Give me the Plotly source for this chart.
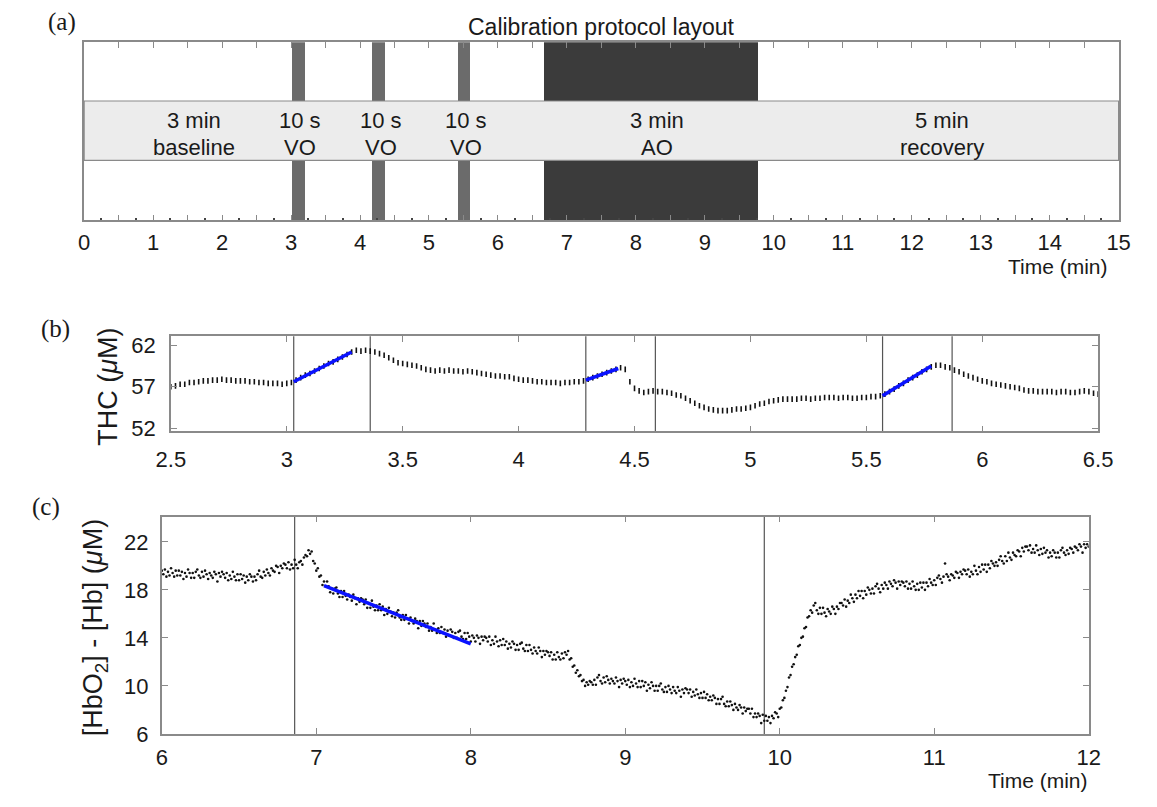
import plotly.graph_objects as go

W, H = 1157, 807

# ---------------- data ----------------
# (a) protocol layout (minutes)
seg_start = [3.02, 4.18, 5.42, 6.67]
seg_end = [3.20, 4.36, 5.59, 9.78]
seg_color = ["#6b6b6b", "#6b6b6b", "#6b6b6b", "#3b3b3b"]
band_label_x = [1.6, 3.13, 4.3, 5.54, 8.3, 12.44]
band_label_top = ["3 min", "10 s", "10 s", "10 s", "3 min", "5 min"]
band_label_bot = ["baseline", "VO", "VO", "VO", "AO", "recovery"]

# (b) THC (uM), sampled every 0.02 min from 2.5 min
thc_t0, thc_dt = 2.5, 0.02
thc = [
    57.0, 57.1, 57.3, 57.3, 57.5, 57.5, 57.6, 57.7, 57.7, 57.8,
    57.8, 57.9, 57.8, 57.8, 57.7, 57.7, 57.7, 57.6, 57.6, 57.5,
    57.5, 57.4, 57.4, 57.4, 57.3, 57.4, 57.5, 57.8, 58.1, 58.4,
    58.6, 58.9, 59.2, 59.5, 59.8, 60.0, 60.3, 60.6, 60.9, 61.2,
    61.4, 61.3, 61.4, 61.3, 61.2, 61.0, 60.8, 60.5, 60.2, 59.9,
    59.8, 59.7, 59.6, 59.5, 59.3, 59.1, 59.0, 58.9, 59.0, 58.9,
    59.0, 58.9, 58.9, 58.8, 58.9, 58.8, 58.7, 58.6, 58.5, 58.4,
    58.3, 58.3, 58.2, 58.2, 58.0, 57.9, 57.8, 57.8, 57.7, 57.6,
    57.6, 57.5, 57.5, 57.5, 57.4, 57.5, 57.5, 57.6, 57.6, 57.7,
    57.9, 58.1, 58.3, 58.5, 58.7, 58.9, 59.1, 59.3, 59.1, 57.6,
    56.8, 56.5, 56.3, 56.4, 56.5, 56.4, 56.4, 56.3, 56.2, 56.0,
    55.9, 55.6, 55.3, 55.0, 54.7, 54.5, 54.3, 54.2, 54.1, 54.1,
    54.1, 54.2, 54.3, 54.3, 54.4, 54.5, 54.7, 54.9, 55.0, 55.2,
    55.3, 55.4, 55.5, 55.5, 55.5, 55.5, 55.6, 55.6, 55.5, 55.6,
    55.6, 55.7, 55.7, 55.7, 55.6, 55.7, 55.7, 55.6, 55.6, 55.7,
    55.7, 55.8, 55.8, 55.9, 56.1, 56.4, 56.7, 57.1, 57.4, 57.8,
    58.1, 58.4, 58.8, 59.1, 59.4, 59.6, 59.6, 59.4, 59.3, 59.0,
    58.8, 58.5, 58.3, 58.1, 57.9, 57.7, 57.6, 57.4, 57.3, 57.2,
    57.1, 57.0, 56.9, 56.8, 56.6, 56.5, 56.5, 56.4, 56.4, 56.4,
    56.4, 56.3, 56.4, 56.4, 56.3, 56.3, 56.4, 56.5, 56.4, 56.2,
    56.1,
]
vo_on = [3.03, 4.29, 5.57]
vo_off = [3.36, 4.59, 5.87]
fit_b_t0 = [3.03, 4.29, 5.57]
fit_b_t1 = [3.28, 4.43, 5.78]
fit_b_v0 = [57.6, 57.8, 55.9]
fit_b_v1 = [61.2, 59.2, 59.5]

# (c) [HbO2]-[Hb] (uM), sampled every 0.01 min from 6 min
hbd_t0, hbd_dt = 6.0, 0.01
hbd = [
    19.6, 19.3, 19.7, 19.1, 19.5, 19.2, 19.8, 19.4, 19.1, 19.6,
    19.2, 19.6, 19.2, 19.5, 18.9, 19.4, 19.1, 19.7, 19.4, 19.0,
    19.4, 19.0, 19.5, 19.7, 19.2, 19.0, 19.5, 19.1, 19.6, 19.3,
    18.9, 19.4, 19.2, 19.0, 19.5, 19.3, 18.7, 19.4, 19.1, 19.5,
    19.3, 19.0, 19.4, 18.8, 19.2, 18.9, 19.5, 19.1, 18.8, 19.3,
    18.8, 19.3, 18.9, 19.2, 18.6, 19.1, 18.8, 19.3, 19.1, 18.7,
    19.1, 18.8, 19.3, 19.6, 19.1, 19.0, 19.5, 19.2, 19.7, 19.4,
    19.2, 19.8, 19.6, 19.5, 20.0, 19.9, 19.4, 20.0, 19.8, 20.2,
    20.1, 19.8, 20.3, 19.7, 20.1, 19.8, 20.5, 20.1, 19.8, 20.3,
    20.4, 20.1, 20.7, 20.9, 20.8, 21.3, 21.0, 21.2, 20.4, 20.2,
    19.6, 19.8, 19.1, 19.2, 18.4, 18.7, 18.3, 18.7, 18.3, 17.8,
    18.1, 17.7, 18.1, 18.2, 17.7, 17.4, 17.9, 17.4, 17.9, 17.5,
    17.2, 17.6, 17.4, 17.1, 17.6, 17.3, 16.8, 17.3, 17.0, 17.3,
    17.2, 16.8, 17.2, 16.5, 16.9, 16.5, 17.1, 16.6, 16.3, 16.7,
    16.3, 16.8, 16.3, 16.6, 15.9, 16.4, 16.0, 16.5, 16.2, 15.8,
    16.1, 15.7, 16.1, 16.3, 15.7, 15.5, 15.9, 15.5, 15.9, 15.6,
    15.2, 15.7, 15.4, 15.2, 15.6, 15.4, 14.8, 15.4, 15.0, 15.4,
    15.2, 14.9, 15.2, 14.6, 14.9, 14.6, 15.2, 14.7, 14.4, 14.8,
    14.4, 14.9, 14.4, 14.7, 14.1, 14.6, 14.2, 14.7, 14.5, 14.0,
    14.4, 14.0, 14.5, 14.6, 14.1, 13.9, 14.4, 13.9, 14.4, 14.1,
    13.7, 14.2, 14.0, 13.7, 14.2, 14.0, 13.5, 14.1, 13.8, 14.1,
    14.0, 13.7, 14.1, 13.4, 13.8, 13.5, 14.1, 13.7, 13.3, 13.8,
    13.4, 13.9, 13.4, 13.7, 13.1, 13.5, 13.2, 13.7, 13.5, 13.0,
    13.4, 13.0, 13.5, 13.6, 13.1, 12.9, 13.4, 12.9, 13.4, 13.0,
    12.7, 13.2, 12.9, 12.7, 13.2, 12.9, 12.4, 12.9, 12.6, 12.9,
    12.8, 12.5, 12.8, 12.2, 12.6, 12.2, 12.8, 12.4, 12.2, 12.7,
    12.3, 12.8, 12.6, 12.9, 12.2, 12.3, 11.6, 11.7, 11.1, 11.3,
    10.8, 10.9, 10.4, 10.5, 10.0, 10.3, 10.1, 10.4, 10.3, 10.1,
    10.5, 10.1, 10.7, 10.9, 10.4, 10.2, 10.7, 10.3, 10.8, 10.5,
    10.2, 10.6, 10.4, 10.2, 10.7, 10.4, 9.9, 10.5, 10.2, 10.6,
    10.4, 10.1, 10.5, 9.9, 10.3, 10.0, 10.6, 10.2, 9.9, 10.4,
    9.9, 10.4, 10.0, 10.3, 9.6, 10.1, 9.8, 10.3, 10.0, 9.6,
    10.0, 9.6, 10.0, 10.2, 9.7, 9.5, 9.9, 9.5, 10.0, 9.7,
    9.4, 9.9, 9.6, 9.4, 9.9, 9.6, 9.1, 9.7, 9.4, 9.8,
    9.7, 9.4, 9.7, 9.1, 9.5, 9.2, 9.7, 9.3, 9.0, 9.4,
    9.0, 9.5, 9.0, 9.3, 8.8, 9.1, 8.8, 9.2, 9.0, 8.5,
    8.9, 8.5, 8.9, 9.1, 8.5, 8.3, 8.7, 8.3, 8.7, 8.4,
    8.0, 8.5, 8.2, 8.0, 8.4, 8.2, 7.7, 8.2, 7.9, 8.1,
    8.1, 7.7, 8.1, 7.4, 7.7, 7.4, 7.7, 7.5, 6.9, 7.6,
    7.1, 7.5, 7.1, 7.4, 6.9, 7.5, 7.3, 7.8, 7.7, 7.4,
    8.1, 8.2, 8.8, 9.0, 9.6, 9.9, 10.7, 10.9, 11.6, 11.8,
    12.4, 12.6, 13.3, 13.4, 14.0, 14.1, 14.8, 14.9, 15.7, 15.8,
    16.3, 16.1, 16.7, 16.9, 16.3, 16.0, 16.5, 16.0, 16.5, 16.1,
    15.8, 16.4, 16.2, 16.0, 16.6, 16.4, 16.0, 16.6, 16.4, 16.9,
    16.9, 16.7, 17.2, 16.6, 17.1, 16.9, 17.6, 17.3, 17.0, 17.6,
    17.3, 17.9, 17.5, 17.9, 17.3, 17.9, 17.6, 18.2, 18.0, 17.7,
    18.1, 17.7, 18.3, 18.5, 18.1, 17.8, 18.4, 18.1, 18.6, 18.4,
    18.1, 18.7, 18.5, 18.3, 18.8, 18.6, 18.1, 18.7, 18.4, 18.7,
    18.6, 18.3, 18.7, 18.1, 18.5, 18.1, 18.7, 18.3, 18.0, 18.5,
    18.0, 18.6, 18.2, 18.6, 18.0, 18.6, 18.3, 18.9, 18.6, 18.4,
    18.8, 18.4, 19.0, 19.2, 18.9, 18.6, 19.1, 20.2, 19.3, 19.1,
    18.8, 19.3, 19.2, 19.0, 19.5, 19.4, 19.0, 19.5, 19.3, 19.7,
    19.6, 19.3, 19.7, 19.1, 19.5, 19.3, 20.0, 19.6, 19.3, 19.9,
    19.5, 20.1, 19.7, 20.1, 19.5, 20.1, 19.8, 20.4, 20.2, 20.0,
    20.3, 20.0, 20.5, 20.8, 20.4, 20.2, 20.8, 20.4, 21.1, 20.7,
    20.5, 21.1, 20.9, 20.8, 21.3, 21.2, 20.8, 21.5, 21.2, 21.6,
    21.6, 21.3, 21.7, 21.1, 21.4, 21.1, 21.7, 21.3, 20.9, 21.4,
    21.0, 21.5, 21.1, 21.3, 20.7, 21.1, 20.8, 21.3, 21.1, 20.7,
    21.1, 20.7, 21.3, 21.5, 21.1, 20.9, 21.3, 21.0, 21.5, 21.4,
    21.1, 21.6, 21.5, 21.3, 21.8, 21.6, 21.1, 21.8, 21.5, 21.8,
    21.6,
]
ao_on, ao_off = 6.86, 9.90
fit_c_t = [7.05, 8.0]
fit_c_v = [18.35, 13.5]

# ---------------- styling helpers ----------------
FONT = "Liberation Sans, Arial, sans-serif"
SERIF = "Liberation Serif, Times New Roman, serif"
AXC = "#8a8a8a"
TXT = "#1a1a1a"
TICKF = 22


def px(x):
    return x / W


def py(y):
    return 1 - y / H


def axis(**kw):
    d = dict(showline=True, linecolor=AXC, linewidth=1.6, mirror="ticks",
             ticks="inside", tickcolor=AXC, tickwidth=1.3, ticklen=6,
             showgrid=False, zeroline=False,
             tickfont=dict(family=FONT, size=TICKF, color=TXT))
    d.update(kw)
    return d


fig = go.Figure()

# (a) protocol bars
fig.add_trace(go.Bar(
    x=[(s + e) / 2 for s, e in zip(seg_start, seg_end)],
    width=[e - s for s, e in zip(seg_start, seg_end)],
    y=[1] * len(seg_start), base=0,
    marker=dict(color=seg_color, line=dict(width=0)),
    xaxis="x", yaxis="y", showlegend=False, hoverinfo="skip"))
# carrier for the bottom-only minor tick dots of panel (a)
fig.add_trace(go.Scatter(x=[None], y=[None], xaxis="x4", yaxis="y",
                         showlegend=False, hoverinfo="skip"))

# (b) THC
thc_time = [thc_t0 + thc_dt * i for i in range(len(thc))]
fig.add_trace(go.Scatter(
    x=thc_time, y=thc, mode="markers",
    marker=dict(symbol="line-ns", size=4, line=dict(width=1.6, color="#111")),
    xaxis="x2", yaxis="y2", showlegend=False))
bx, by = [], []
for t0, t1, v0, v1 in zip(fit_b_t0, fit_b_t1, fit_b_v0, fit_b_v1):
    bx += [t0, t1, None]
    by += [v0, v1, None]
fig.add_trace(go.Scatter(x=bx, y=by, mode="lines",
                         line=dict(color="#0a12ff", width=3.5),
                         xaxis="x2", yaxis="y2", showlegend=False))

# (c) HbO2 - Hb
hbd_time = [hbd_t0 + hbd_dt * i for i in range(len(hbd))]
fig.add_trace(go.Scatter(
    x=hbd_time, y=hbd, mode="markers",
    marker=dict(size=2.6, color="#111"),
    xaxis="x3", yaxis="y3", showlegend=False))
fig.add_trace(go.Scatter(x=fit_c_t, y=fit_c_v, mode="lines",
                         line=dict(color="#0a12ff", width=3.5),
                         xaxis="x3", yaxis="y3", showlegend=False))

shapes = []
# light band across protocol panel
shapes.append(dict(type="rect", xref="x domain", yref="y", x0=0, x1=1,
                   y0=0.336, y1=0.670, fillcolor="#ececec",
                   line=dict(color="#8a8a8a", width=1.2), layer="above"))
for t in vo_on + vo_off:
    shapes.append(dict(type="line", xref="x2", yref="y2 domain", x0=t, x1=t,
                       y0=0, y1=1, line=dict(color="#555", width=1.2),
                       layer="below"))
for t in [ao_on, ao_off]:
    shapes.append(dict(type="line", xref="x3", yref="y3 domain", x0=t, x1=t,
                       y0=0, y1=1, line=dict(color="#555", width=1.2),
                       layer="below"))

ann = []
for xl, t1, t2 in zip(band_label_x, band_label_top, band_label_bot):
    ann.append(dict(x=xl, xref="x", y=py(120), text=t1,
                    font=dict(family=FONT, size=22, color=TXT)))
    ann.append(dict(x=xl, xref="x", y=py(147), text=t2,
                    font=dict(family=FONT, size=22, color=TXT)))

ann += [
    dict(x=px(48), y=py(19), text="(a)", font=dict(family=SERIF, size=25, color=TXT)),
    dict(x=px(42), y=py(333), text="(b)", font=dict(family=SERIF, size=25, color=TXT)),
    dict(x=px(32), y=py(514), text="(c)", font=dict(family=SERIF, size=25, color=TXT)),
    dict(x=px(602), y=py(24), text="Calibration protocol layout",
         font=dict(family=FONT, size=23, color=TXT)),
    dict(x=px(1124), y=py(269), text="Time (min)", xanchor="right",
         font=dict(family=FONT, size=21, color=TXT)),
    dict(x=px(1104), y=py(793), text="Time (min)", xanchor="right",
         font=dict(family=FONT, size=21, color=TXT)),
    dict(x=px(96), y=py(392), text="THC (<i>\u03bc</i>M)", textangle=-90,
         font=dict(family=FONT, size=27, color=TXT)),
    dict(x=px(83), y=py(637), text="[HbO<sub>2</sub>] - [Hb] (<i>\u03bc</i>M)",
         textangle=-90, font=dict(family=FONT, size=27, color=TXT)),
]
for a in ann:
    a.setdefault("xref", "paper")
    a.setdefault("yref", "paper")
    a.setdefault("xanchor", "center")
    a.setdefault("yanchor", "middle")
    a.setdefault("showarrow", False)

fig.update_layout(
    width=W, height=H, margin=dict(l=0, r=0, t=0, b=0),
    paper_bgcolor="white", plot_bgcolor="white",
    xaxis=axis(domain=[px(71), px(1133)], range=[0, 15],
               tickmode="linear", tick0=0, dtick=1,
               minor=dict(tickmode="linear", tick0=0.5, dtick=0.5, ticklen=6,
                          ticks="inside", tickcolor=AXC, tickwidth=1.3),
               ticklabelstandoff=1, anchor="y"),
    xaxis4=dict(overlaying="x", anchor="y", range=[0, 15], side="bottom",
                showline=False, showgrid=False, zeroline=False,
                showticklabels=False, ticks="inside", tickmode="linear",
                tick0=0.25, dtick=0.5, ticklen=2, tickwidth=1.8,
                tickcolor="#444"),
    yaxis=axis(domain=[py(221.7), py(40)], range=[0, 1], ticks="",
               showticklabels=False, mirror=True, anchor="x"),
    xaxis2=axis(domain=[px(160), px(1112)], range=[2.5, 6.5],
                tickmode="linear", tick0=2.5, dtick=0.5,
                ticklabelstandoff=7, anchor="y2"),
    yaxis2=axis(domain=[py(437), py(340)], range=[51.6, 63.1],
                tickmode="array", tickvals=[52, 57, 62],
                ticklabelstandoff=9, anchor="x2"),
    xaxis3=axis(domain=[px(150.7), px(1102.3)], range=[6, 12],
                tickmode="linear", tick0=6, dtick=1,
                ticklabelstandoff=3, anchor="y3"),
    yaxis3=axis(domain=[py(745.7), py(524)], range=[6, 24.1],
                tickmode="array", tickvals=[6, 10, 14, 18, 22],
                ticklabelstandoff=7, anchor="x3"),
    shapes=shapes, annotations=ann, bargap=0,
)

fig.write_html("out.html")
